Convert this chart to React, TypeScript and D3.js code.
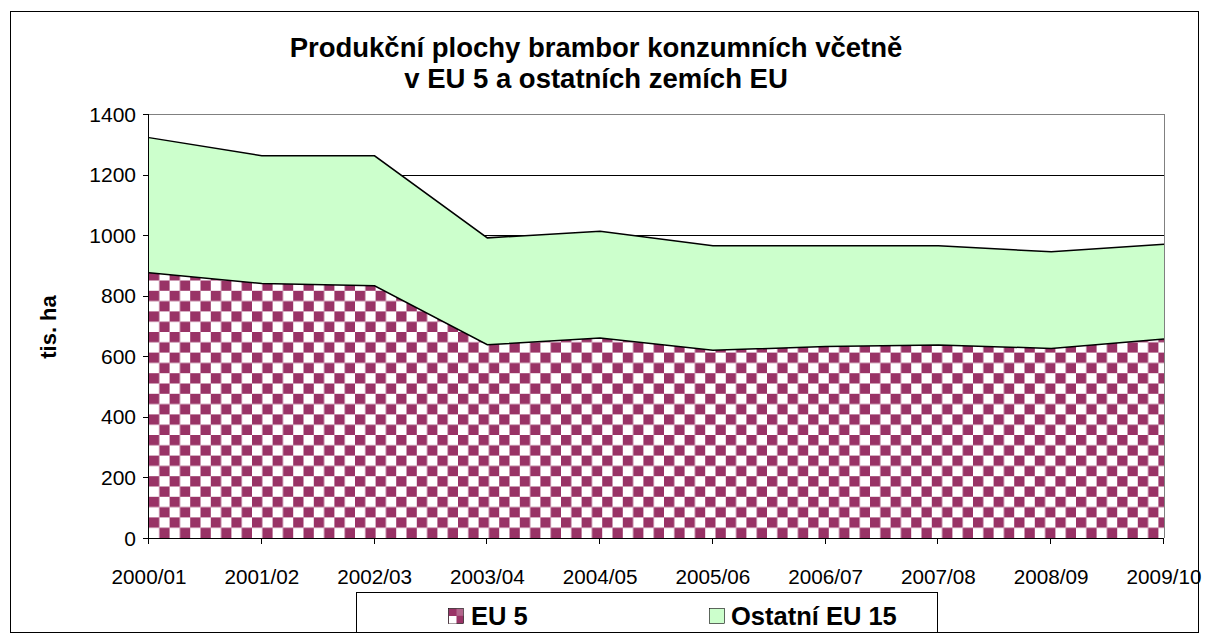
import React from 'react';
import * as d3 from 'd3';

const seasons = ['2000/01', '2001/02', '2002/03', '2003/04', '2004/05', '2005/06', '2006/07', '2007/08', '2008/09', '2009/10'];
const eu5 = [876, 840, 833, 638, 660, 620, 632, 637, 626, 657];
const ostatni = [446, 422, 429, 353, 353, 345, 333, 328, 319, 313];
const yTicks = [0, 200, 400, 600, 800, 1000, 1200, 1400];
const seriesNames = ['EU 5', 'Ostatní EU 15'];

const W = 1208;
const H = 644;
const left = 149;
const right = 1164;
const top = 114;
const bottom = 538;
const font = 'Arial, "Liberation Sans", sans-serif';

export default function App() {
  const x = d3.scalePoint<string>().domain(seasons).range([left, right]);
  const y = d3.scaleLinear().domain([0, 1400]).range([bottom, top]);

  const rows = seasons.map((s, i) => ({ s, a: eu5[i], b: ostatni[i] }));
  const stack = d3.stack<any>().keys(['a', 'b'])(rows);

  const area = d3
    .area<any>()
    .x((d) => x(d.data.s) as number)
    .y0((d) => y(d[0]))
    .y1((d) => y(d[1]));
  const line = d3
    .line<any>()
    .x((d) => x(d.data.s) as number)
    .y((d) => y(d[1]));

  return (
    <svg width={W} height={H} style={{ position: 'absolute', left: 0, top: 0, background: '#fff' }}>
      <defs>
        <pattern id="checker" patternUnits="userSpaceOnUse" width={20.6} height={20.6} x={left} y={bottom}>
          <rect width={20.6} height={20.6} fill="#fff" />
          <rect width={10.3} height={10.3} fill="#993366" />
          <rect x={10.3} y={10.3} width={10.3} height={10.3} fill="#993366" />
        </pattern>
      </defs>
      <rect x={10.5} y={11.5} width={1188} height={621} fill="#fff" stroke="#000" />

      <text x={596} y={57} textAnchor="middle" fontFamily={font} fontWeight="bold" fontSize={27.5}>
        Produkční plochy brambor konzumních včetně
      </text>
      <text x={596} y={88} textAnchor="middle" fontFamily={font} fontWeight="bold" fontSize={27.5}>
        v EU 5 a ostatních zemích EU
      </text>

      {/* grid */}
      {yTicks.slice(1).map((t) => (
        <line key={t} x1={left} x2={right} y1={Math.round(y(t)) + 0.5} y2={Math.round(y(t)) + 0.5} stroke={t === 1400 ? '#808080' : '#000'} />
      ))}
      <line x1={right + 0.5} x2={right + 0.5} y1={top} y2={bottom} stroke="#808080" />

      {/* areas */}
      <path d={area(stack[0]) || ''} fill="url(#checker)" />
      <path d={area(stack[1]) || ''} fill="#ccffcc" />
      <path d={line(stack[0]) || ''} fill="none" stroke="#000" strokeWidth={1.5} />
      <path d={line(stack[1]) || ''} fill="none" stroke="#000" strokeWidth={1.5} />

      {/* axes */}
      <line x1={left - 0.5} x2={left - 0.5} y1={top} y2={bottom + 5} stroke="#000" />
      <line x1={left - 6} x2={right} y1={bottom + 0.5} y2={bottom + 0.5} stroke="#000" />
      {yTicks.map((t) => (
        <g key={t}>
          <line x1={left - 6} x2={left} y1={Math.round(y(t)) + 0.5} y2={Math.round(y(t)) + 0.5} stroke="#000" />
          <text x={left - 13} y={y(t) + 7.5} textAnchor="end" fontFamily={font} fontSize={21}>
            {t}
          </text>
        </g>
      ))}
      {seasons.map((s) => (
        <g key={s}>
          <line x1={Math.round(x(s) as number) - 0.5} x2={Math.round(x(s) as number) - 0.5} y1={bottom} y2={bottom + 6} stroke="#000" />
          <text x={x(s)} y={584} textAnchor="middle" fontFamily={font} fontSize={20.7}>
            {s}
          </text>
        </g>
      ))}
      <text
        transform="translate(56,327) rotate(-90)"
        textAnchor="middle"
        fontFamily={font}
        fontWeight="bold"
        fontSize={22}
      >
        tis. ha
      </text>

      {/* legend */}
      <rect x={356.5} y={592.5} width={581} height={40} fill="#fff" stroke="#000" />
      <g>
        <rect x={448.5} y={608.5} width={15} height={15} fill="#993366" stroke="#000" strokeWidth={0.6} />
        <rect x={449} y={616} width={7.5} height={7.5} fill="#fff" />
        <rect x={456.5} y={608.8} width={7} height={7} fill="#fff" opacity={0.25} />
        <text x={471} y={625} fontFamily={font} fontWeight="bold" fontSize={25.5}>
          {seriesNames[0]}
        </text>
      </g>
      <g>
        <rect x={709.5} y={608.5} width={15} height={15} fill="#ccffcc" stroke="#000" strokeWidth={0.6} />
        <text x={731} y={625} fontFamily={font} fontWeight="bold" fontSize={25.5}>
          {seriesNames[1]}
        </text>
      </g>
    </svg>
  );
}
